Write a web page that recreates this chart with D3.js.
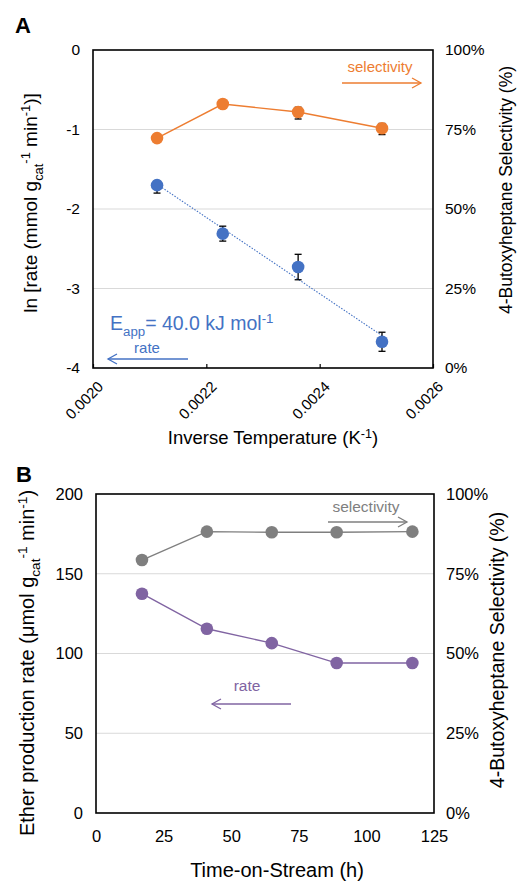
<!DOCTYPE html>
<html>
<head>
<meta charset="utf-8">
<script src="https://cdn.jsdelivr.net/npm/d3@7"></script>
<style>
  body { margin: 0; background: #fff; }
  svg { font-family: "Liberation Sans", Arial, sans-serif; }
</style>
</head>
<body>
<script>
// panel A data
const invTemp = [0.002113, 0.002229, 0.002362, 0.00251];
const lnRate = [-1.70, -2.31, -2.73, -3.67];
const lnRateErrLow = [0.10, 0.094, 0.16, 0.12];
const lnRateErrHigh = [0.05, 0.094, 0.16, 0.12];
const selA = [72.3, 83.0, 80.5, 75.4];
const selAErrLow = [0.5, 0.5, 2.2, 2.0];
const selAErrHigh = [0.5, 0.5, 1.5, 1.5];
const xTicksA = [0.0020, 0.0022, 0.0024, 0.0026];
const yTicksA = [0, -1, -2, -3, -4];

// panel B data
const timeOnStream = [17, 41, 65, 89, 117];
const rateB = [137.5, 115.5, 106.5, 94, 94];
const selB = [79.3, 88.2, 88.0, 88.0, 88.2];
const xTicksB = [0, 25, 50, 75, 100, 125];
const yTicksB = [0, 50, 100, 150, 200];
const pctTicks = [0, 25, 50, 75, 100];

const orange = "#ED7D31", blue = "#4472C4", grey = "#7F7F7F", purple = "#8064A2";

const width = 518, height = 881;
const svg = d3.select("body").append("svg")
  .attr("width", width).attr("height", height);

// text with sub/superscripts
function richText(g, parts, size) {
  const t = g.append("text").attr("font-size", size).attr("fill", "#000");
  let shift = 0;
  parts.forEach(p => {
    const kind = p[1];
    let target = kind === "sub" ? size * 0.3 : kind === "sup" ? -size * 0.35 : 0;
    t.append("tspan")
      .attr("dy", target - shift)
      .attr("font-size", kind ? size * 0.68 : size)
      .text(p[0]);
    shift = target;
  });
  return t;
}

function arrow(g, x1, x2, y, color) {
  const dir = x2 > x1 ? 1 : -1;
  g.append("line").attr("x1", x1).attr("x2", x2).attr("y1", y).attr("y2", y)
    .attr("stroke", color).attr("stroke-width", 1.3);
  g.append("path")
    .attr("d", `M${x2 - dir * 9},${y - 5}L${x2},${y}L${x2 - dir * 9},${y + 5}`)
    .attr("fill", "none").attr("stroke", color).attr("stroke-width", 1.3);
}

function frame(g, x, yL, yR, yLTicks, xTicks, opts) {
  const [x0, x1] = x.range();
  const [yb, yt] = yL.range();
  const fs = opts.fontSize;
  // grid
  g.append("g").selectAll("line").data(yLTicks.slice(1, -1)).join("line")
    .attr("x1", x0).attr("x2", x1)
    .attr("y1", d => yL(d)).attr("y2", d => yL(d))
    .attr("stroke", "#d9d9d9").attr("stroke-width", 1.2);

  const left = g.append("g").attr("transform", `translate(${x0},0)`)
    .call(d3.axisLeft(yL).tickValues(yLTicks).tickSize(0).tickPadding(13).tickFormat(d => String(d)));
  left.select(".domain").remove();
  left.selectAll("text").attr("font-size", fs).attr("fill", "#000").attr("font-family", null);

  const right = g.append("g").attr("transform", `translate(${x1},0)`)
    .call(d3.axisRight(yR).tickValues(pctTicks).tickSize(0).tickPadding(12).tickFormat(d => d + "%"));
  right.select(".domain").remove();
  right.selectAll("text").attr("font-size", fs).attr("fill", "#000").attr("font-family", null);

  const bottom = g.append("g").attr("transform", `translate(0,${yb})`)
    .call(d3.axisBottom(x).tickValues(xTicks).tickSizeInner(opts.rotate ? -4 : 0).tickSizeOuter(0)
      .tickPadding(17).tickFormat(opts.fmtX));
  bottom.select(".domain").remove();
  bottom.selectAll("line").attr("stroke", "#000").attr("stroke-width", 1.2);
  bottom.selectAll("text").attr("fill", "#000").attr("font-family", null).attr("font-size", fs);
  if (opts.rotate) {
    bottom.selectAll("text")
      .attr("font-size", 15)
      .attr("text-anchor", "end").attr("x", 0).attr("y", 0).attr("dy", "0.35em")
      .attr("transform", "translate(7,16) rotate(-45)");
  }

  g.append("rect").attr("x", x0).attr("y", yt).attr("width", x1 - x0).attr("height", yb - yt)
    .attr("fill", "none").attr("stroke", "#000").attr("stroke-width", 1.6);
}

function errorBars(g, xs, ys, errLow, errHigh, x, y) {
  const eb = g.append("g").attr("stroke", "#000").attr("stroke-width", 1.3);
  xs.forEach((xv, i) => {
    const cx = x(xv), lo = y(ys[i] - errLow[i]), hi = y(ys[i] + errHigh[i]);
    eb.append("line").attr("x1", cx).attr("x2", cx).attr("y1", lo).attr("y2", hi);
    eb.append("line").attr("x1", cx - 3.5).attr("x2", cx + 3.5).attr("y1", lo).attr("y2", lo);
    eb.append("line").attr("x1", cx - 3.5).attr("x2", cx + 3.5).attr("y1", hi).attr("y2", hi);
  });
}

function series(g, xs, ys, x, y, color, withLine) {
  const pts = xs.map((v, i) => [x(v), y(ys[i])]);
  if (withLine) {
    g.append("path").attr("d", d3.line()(pts))
      .attr("fill", "none").attr("stroke", color).attr("stroke-width", 1.4);
  }
  g.append("g").selectAll("circle").data(pts).join("circle")
    .attr("cx", d => d[0]).attr("cy", d => d[1]).attr("r", 6.3).attr("fill", color);
}

// ---------- Panel A ----------
const gA = svg.append("g");
const xA = d3.scaleLinear().domain([0.0020, 0.0026]).range([93, 433]);
const yA = d3.scaleLinear().domain([-4, 0]).range([368, 50]);
const yAR = d3.scaleLinear().domain([0, 100]).range([368, 50]);

frame(gA, xA, yA, yAR, yTicksA.slice().reverse(), xTicksA,
  { rotate: true, fontSize: 15.5, fmtX: d3.format(".4f") });

// linear fit for the Arrhenius trendline
const mx = d3.mean(invTemp), my = d3.mean(lnRate);
const slope = d3.sum(invTemp, (v, i) => (v - mx) * (lnRate[i] - my)) / d3.sum(invTemp, v => (v - mx) ** 2);
const fitX = d3.extent(invTemp);
gA.append("line")
  .attr("x1", xA(fitX[0])).attr("y1", yA(my + slope * (fitX[0] - mx)))
  .attr("x2", xA(fitX[1])).attr("y2", yA(my + slope * (fitX[1] - mx)))
  .attr("stroke", blue).attr("stroke-width", 1.1).attr("stroke-dasharray", "1.5,1.5");

errorBars(gA, invTemp, selA, selAErrLow, selAErrHigh, xA, yAR);
series(gA, invTemp, selA, xA, yAR, orange, true);
errorBars(gA, invTemp, lnRate, lnRateErrLow, lnRateErrHigh, xA, yA);
series(gA, invTemp, lnRate, xA, yA, blue, false);

gA.append("text").attr("x", 380).attr("y", 72).attr("text-anchor", "middle")
  .attr("font-size", 15).attr("fill", orange).text("selectivity");
arrow(gA, 342, 421, 83, orange);

const eapp = richText(gA, [["E"], ["app", "sub"], ["= 40.0 kJ mol"], ["-1", "sup"]], 19.5);
eapp.attr("x", 110).attr("y", 330).attr("fill", blue).selectAll("tspan").attr("fill", blue);
gA.append("text").attr("x", 147).attr("y", 353).attr("text-anchor", "middle")
  .attr("font-size", 15).attr("fill", blue).text("rate");
arrow(gA, 188, 108, 359, blue);

gA.append("text").attr("x", 15).attr("y", 33).attr("font-size", 22).attr("font-weight", "bold").text("A");

richText(gA, [["Inverse Temperature (K"], ["-1", "sup"], [")"]], 18.5)
  .attr("x", 273).attr("y", 444).attr("text-anchor", "middle");

richText(gA, [["ln [rate (mmol g"], ["cat", "sub"], ["-1", "sup"], [" min"], ["-1", "sup"], [")]"]], 19)
  .attr("text-anchor", "middle").attr("transform", "translate(37,203) rotate(-90)");

richText(gA, [["4-Butoxyheptane Selectivity (%)"]], 17.5)
  .attr("text-anchor", "middle").attr("transform", "translate(512,190) rotate(-90)");

// ---------- Panel B ----------
const gB = svg.append("g");
const xB = d3.scaleLinear().domain([0, 125]).range([96, 434]);
const yB = d3.scaleLinear().domain([0, 200]).range([813, 494]);
const yBR = d3.scaleLinear().domain([0, 100]).range([813, 494]);

frame(gB, xB, yB, yBR, yTicksB, xTicksB, { rotate: false, fontSize: 16.5, fmtX: d => d });

series(gB, timeOnStream, selB, xB, yBR, grey, true);
series(gB, timeOnStream, rateB, xB, yB, purple, true);

gB.append("text").attr("x", 366).attr("y", 512).attr("text-anchor", "middle")
  .attr("font-size", 15.5).attr("fill", grey).text("selectivity");
arrow(gB, 328, 407, 522, grey);
gB.append("text").attr("x", 247).attr("y", 691).attr("text-anchor", "middle")
  .attr("font-size", 15.5).attr("fill", purple).text("rate");
arrow(gB, 291, 212, 704, purple);

gB.append("text").attr("x", 16).attr("y", 482).attr("font-size", 22).attr("font-weight", "bold").text("B");

gB.append("text").attr("x", 277).attr("y", 877).attr("text-anchor", "middle")
  .attr("font-size", 20).text("Time-on-Stream (h)");

richText(gB, [["Ether production rate (\u03bcmol g"], ["cat", "sub"], ["-1", "sup"], [" min"], ["-1", "sup"], [")"]], 20)
  .attr("text-anchor", "middle").attr("transform", "translate(34,663) rotate(-90)");

richText(gB, [["4-Butoxyheptane Selectivity (%)"]], 19.5)
  .attr("text-anchor", "middle").attr("transform", "translate(504,650) rotate(-90)");
</script>
</body>
</html>
